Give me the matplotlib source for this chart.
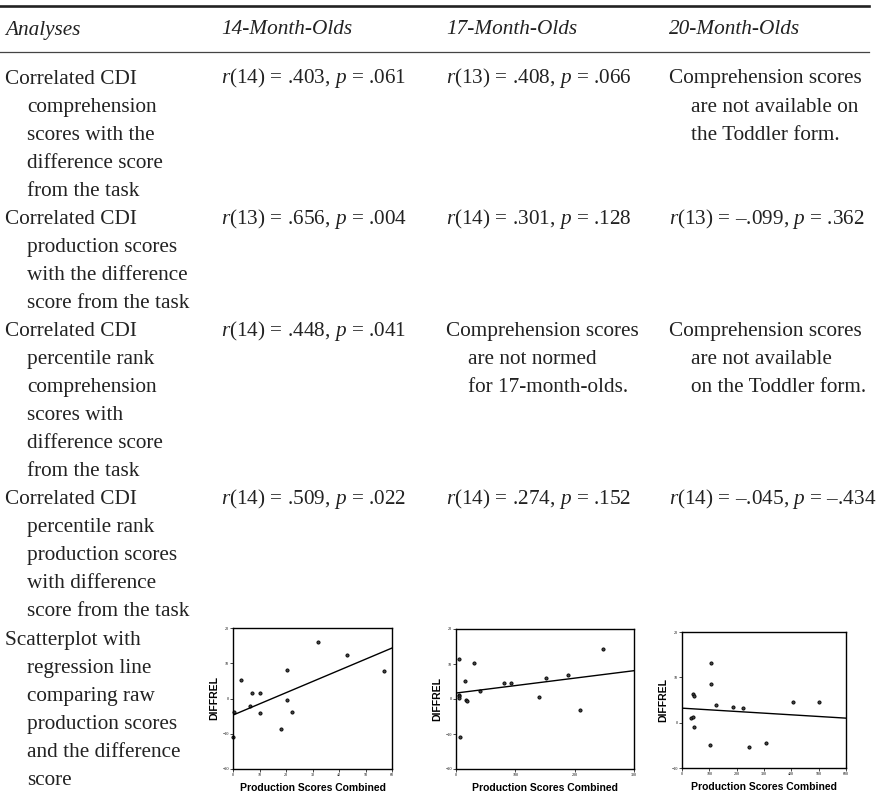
import numpy as np
import matplotlib
matplotlib.use("Agg")
import matplotlib.pyplot as plt
from matplotlib.lines import Line2D

plt.rcParams['font.family'] = ['Liberation Serif', 'DejaVu Serif']
plt.rcParams['mathtext.fontset'] = 'custom'
plt.rcParams['mathtext.rm'] = 'Liberation Serif'
plt.rcParams['mathtext.it'] = 'Liberation Serif:italic'

W, H = 876, 799

headers = ["Analyses", "14-Month-Olds", "17-Month-Olds", "20-Month-Olds"]

analyses = [
    ["Correlated CDI", "comprehension", "scores with the", "difference score", "from the task"],
    ["Correlated CDI", "production scores", "with the difference", "score from the task"],
    ["Correlated CDI", "percentile rank", "comprehension", "scores with", "difference score", "from the task"],
    ["Correlated CDI", "percentile rank", "production scores", "with difference", "score from the task"],
    ["Scatterplot with", "regression line", "comparing raw", "production scores", "and the difference", "score"],
]

res_14 = [
    ["$r$(14) = .403, $p$ = .061"],
    ["$r$(13) = .656, $p$ = .004"],
    ["$r$(14) = .448, $p$ = .041"],
    ["$r$(14) = .509, $p$ = .022"],
    [],
]
res_17 = [
    ["$r$(13) = .408, $p$ = .066"],
    ["$r$(14) = .301, $p$ = .128"],
    ["Comprehension scores", "are not normed", "for 17-month-olds."],
    ["$r$(14) = .274, $p$ = .152"],
    [],
]
res_20 = [
    ["Comprehension scores", "are not available on", "the Toddler form."],
    ["$r$(13) = \u2013.099, $p$ = .362"],
    ["Comprehension scores", "are not available", "on the Toddler form."],
    ["$r$(14) = \u2013.045, $p$ = \u2013.434"],
    [],
]

# scatterplot data (production scores combined vs DIFFREL)
x14 = [0.25, 0, 3.1, 7.2, 10.2, 6.3, 10.2, 20.3, 20.3, 22.3, 18.1, 32, 43, 57]
y14 = [-3.7, -10.8, 5.3, 1.6, 1.7, -2.1, -4.0, 8.2, -0.5, -3.9, -8.6, 15.9, 12.2, 7.7]
fit14 = (-4.7, 0.317)

x17 = [4.5, 31, 14.5, 4.5, 4.5, 4.5, 17, 18, 41, 81, 93, 140, 152, 189, 209, 248, 6]
y17 = [11.4, 10.4, 5.2, 1.2, 0.8, 0.3, -0.3, -0.7, 2.3, 4.6, 4.6, 0.6, 6.0, 6.9, -3.0, 14.2, -10.9]
fit17 = (1.7, 0.0213)

x20 = [105, 106, 39, 43, 124, 185, 224, 406, 501, 33, 41, 43, 101, 244, 306]
y20 = [13.1, 8.5, 6.25, 5.8, 3.8, 3.5, 3.2, 4.5, 4.6, 1.0, 1.2, -1.0, -5.0, -5.4, -4.5]
fit20 = (3.2, -0.00367)

fig = plt.figure(figsize=(W / 100, H / 100), dpi=100)


def fy(y):
    return 1 - y / H


# rules
fig.add_artist(Line2D([0, 869 / W], [fy(6), fy(6)], color='#222222', lw=1.9, transform=fig.transFigure))
fig.add_artist(Line2D([0, 869 / W], [fy(52), fy(52)], color='#444444', lw=0.9, transform=fig.transFigure))

col_x = [5, 221, 446, 669]
indent = 22
fs = 15.3
line_h = 28.05
first_base = 83.5

for cx, h in zip(col_x, headers):
    fig.text(cx / W, fy(34.5), h, fontsize=fs, style='italic', va='baseline', color='#222222')

columns = [analyses, res_14, res_17, res_20]
line_idx = 0
row_start = []
for r in range(len(analyses)):
    row_start.append(line_idx)
    for c, col in enumerate(columns):
        for k, txt in enumerate(col[r]):
            x = col_x[c] + (indent if k > 0 else 0)
            y = first_base + (line_idx + k) * line_h
            fig.text(x / W, fy(y), txt, fontsize=fs, va='baseline', color='#222222')
    line_idx += len(analyses[r])


def panel(rect, x, y, fit, xlim, xticks, ylim, yticks):
    left, top, right, bottom = rect
    ax = fig.add_axes([left / W, fy(bottom), (right - left) / W, (bottom - top) / H])
    ax.plot(x, y, 'o', ms=2.3, mfc='#444444', mec='black', mew=0.6, clip_on=False)
    xs = np.array(xlim, dtype=float)
    ax.plot(xs, fit[0] + fit[1] * xs, color='black', lw=1.0)
    ax.set_xlim(xlim)
    ax.set_ylim(ylim)
    ax.set_xticks(xticks)
    ax.set_yticks(yticks)
    ax.tick_params(direction='out', length=2, width=0.5, labelsize=3, pad=1)
    for s in ax.spines.values():
        s.set_linewidth(1.0)
    ax.set_xlabel("Production Scores Combined", family='Liberation Sans', weight='bold',
                  fontsize=7.5, labelpad=4)
    ax.set_ylabel("DIFFREL", family='Liberation Sans', weight='bold', fontsize=7.5, labelpad=2)
    return ax


panel((233, 628, 392, 769), x14, y14, fit14, (0, 60), range(0, 61, 10), (-20, 20), range(-20, 21, 10))
panel((456, 629, 634, 769), x17, y17, fit17, (0, 300), range(0, 301, 100), (-20, 20), range(-20, 21, 10))
panel((682, 632, 846, 768), x20, y20, fit20, (0, 600), range(0, 601, 100), (-10, 20), range(-10, 21, 10))

fig.savefig("out.png", dpi=100)
